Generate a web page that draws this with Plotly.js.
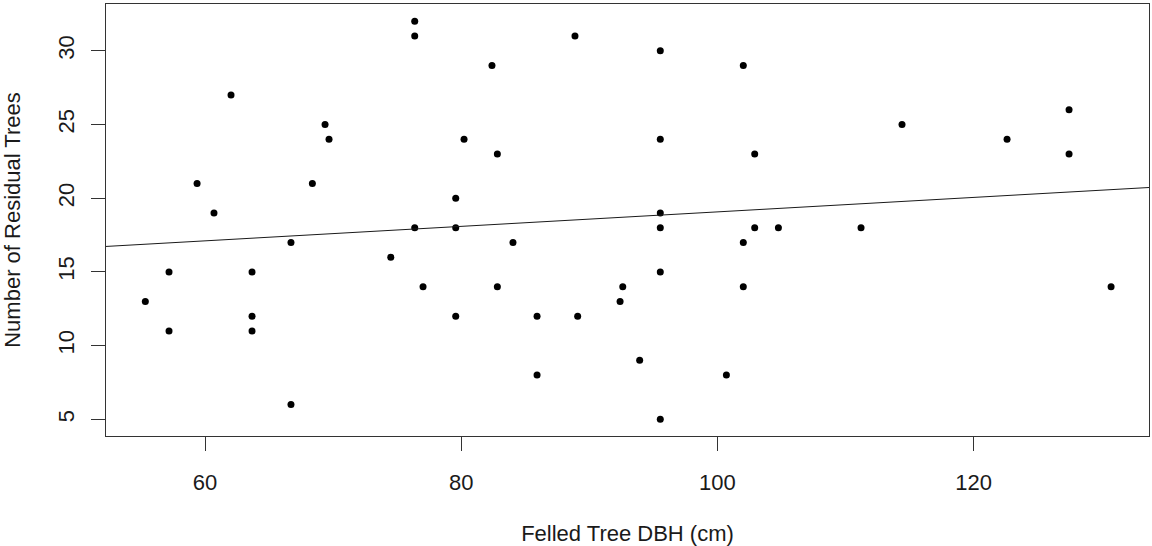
<!DOCTYPE html>
<html>
<head>
<meta charset="utf-8">
<script src="https://cdn.plot.ly/plotly-3.0.1.min.js"></script>
<style>html,body{margin:0;padding:0;background:#fff;}#chart{width:1152px;height:546px;}</style>
</head>
<body>
<div id="chart"></div>
<script>
// Felled tree DBH (cm)
const dbh = [76.37, 76.37, 82.40, 62.03, 69.37, 69.68, 80.22, 82.82, 59.38, 68.38,
             79.57, 60.70, 76.37, 79.57, 66.71, 74.50, 57.19, 63.67, 55.34, 77.02,
             82.82, 63.67, 79.57, 57.19, 63.67, 66.71, 88.88, 95.54, 102.02, 95.54,
             102.91, 95.54, 95.54, 102.91, 104.76, 84.04, 102.02, 95.54, 92.61, 102.02,
             92.40, 85.92, 89.09, 93.93, 85.92, 100.70, 95.54, 114.41, 127.45, 122.61,
             127.45, 111.21, 130.73];
// Number of residual trees
const residual = [32, 31, 29, 27, 25, 24, 24, 23, 21, 21,
                  20, 19, 18, 18, 17, 16, 15, 15, 13, 14,
                  14, 12, 12, 11, 11, 6, 31, 30, 29, 24,
                  23, 19, 18, 18, 18, 17, 17, 15, 14, 14,
                  13, 12, 12, 9, 8, 8, 5, 25, 26, 24,
                  23, 18, 14];
// Fitted line
const fitIntercept = 14.16;
const fitSlope = 0.0491;
const xTicks = [60, 80, 100, 120];
const yTicks = [5, 10, 15, 20, 25, 30];
const xRange = [52.27, 133.69];
const yRange = [3.87, 33.17];

const fitX = xRange.slice();
const fitY = fitX.map(x => fitIntercept + fitSlope * x);

const font = {family: 'Liberation Sans, Arial, sans-serif', size: 22, color: '#1a1a1a'};

const traces = [
  {x: dbh, y: residual, type: 'scatter', mode: 'markers',
   marker: {color: '#000', size: 7}, hoverinfo: 'x+y', showlegend: false},
  {x: fitX, y: fitY, type: 'scatter', mode: 'lines',
   line: {color: '#1a1a1a', width: 1}, hoverinfo: 'skip', showlegend: false}
];

const layout = {
  width: 1152, height: 546,
  margin: {l: 106, r: 3, t: 4, b: 110, pad: 0},
  paper_bgcolor: '#fff', plot_bgcolor: '#fff',
  font: font,
  showlegend: false,
  xaxis: {
    range: xRange, tickvals: xTicks, ticktext: xTicks.map(String),
    showgrid: false, zeroline: false,
    showline: true, mirror: true, linecolor: '#333', linewidth: 1,
    ticks: 'outside', ticklen: 14, tickcolor: '#333', tickwidth: 1,
    tickfont: font, ticklabelstandoff: 13,
    title: {text: 'Felled Tree DBH (cm)', font: font, standoff: 38},
    automargin: false
  },
  yaxis: {
    range: yRange, tickvals: yTicks, ticktext: yTicks.map(String),
    showgrid: false, zeroline: false,
    showline: true, mirror: true, linecolor: '#333', linewidth: 1,
    tickangle: -90, tickfont: font, ticklabelstandoff: 8,
    ticks: 'outside', ticklen: 14, tickcolor: '#333', tickwidth: 1,
    title: {text: 'Number of Residual Trees', font: font, standoff: 30},
    automargin: false
  }
};

Plotly.newPlot('chart', traces, layout, {displayModeBar: false, staticPlot: true});
</script>
</body>
</html>
